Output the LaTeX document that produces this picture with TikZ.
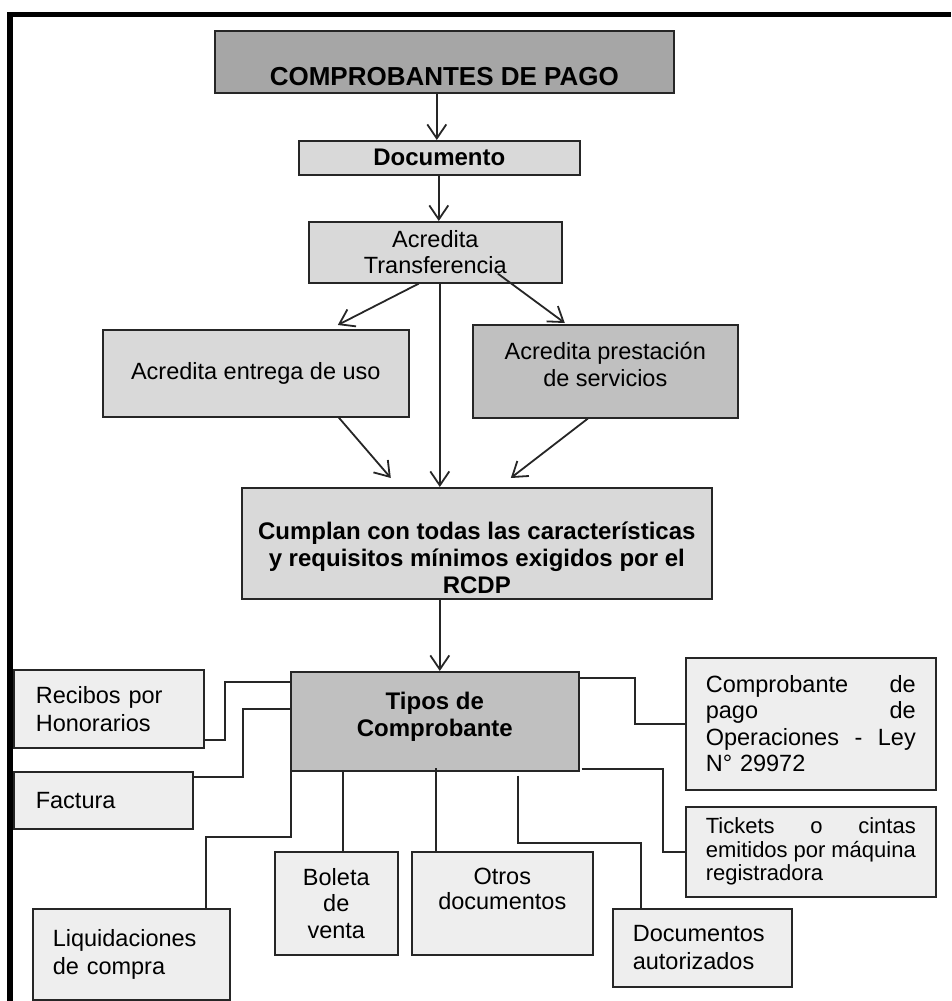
\documentclass[tikz,border=0pt]{standalone}
\usepackage{fontspec}
\setmainfont{Liberation Sans}
\usetikzlibrary{arrows.meta}
\definecolor{dk}{HTML}{A6A6A6}
\definecolor{md}{HTML}{C0C0C0}
\definecolor{lt}{HTML}{D9D9D9}
\definecolor{vl}{HTML}{EEEEEE}
\definecolor{ln}{HTML}{262626}
\newcommand{\fsreg}{\fontsize{23.5}{26.5}\selectfont}
\newcommand{\fsbig}{\fontsize{26}{30}\selectfont\bfseries}
\newcommand{\fsbold}{\fontsize{24}{27}\selectfont\bfseries}
\newcommand{\fssmall}{\fontsize{22}{23.5}\selectfont}
\newcommand{\fsloose}{\fontsize{23.5}{28}\selectfont}
\newcommand{\jline}[1]{\leavevmode\makebox[210pt][l]{#1}}
\tikzset{
  sz/.style n args={4}{minimum width={(#3-#1)*1pt}, minimum height={(#4-#2)*1pt}},
  box/.style={draw=ln, line width=1.6pt, inner sep=0pt, anchor=north west, font=\fsreg, align=center},
  txt/.style={inner sep=0pt, align=center},
  conn/.style={draw=ln, line width=1.8pt},
  arr/.style={conn, -{Straight Barb[length=14pt,width=19pt,line width=1.8pt]}},
}
\begin{document}
\begin{tikzpicture}[x=1pt,y=-1pt]
\useasboundingbox (0,0) rectangle (951,1001);
\draw[line width=5.5pt, line join=miter] (10,1001) -- (10,14.5) -- (951,14.5);

% boxes
\node[box, fill=dk, sz={214}{30}{673}{92}] (cp) at (214,30) {};
\node[txt, font=\fsbig] at ([yshift=-15pt]cp.center) {COMPROBANTES DE PAGO};
\node[box, fill=lt, font=\fsbold, sz={298}{140}{579}{174}] (doc) at (298,140) {Documento};
\node[box, fill=lt, sz={308}{221}{561}{282}] (tr) at (308,221) {Acredita\\Transferencia};
\node[box, fill=lt, sz={102}{329}{408}{416}] (ent) at (102,329) {Acredita entrega de uso};
\node[box, fill=md, sz={472}{324}{737}{417}] (pre) at (472,324) {};
\node[txt, font=\fsreg] at ([yshift=7pt]pre.center) {Acredita prestación\\de servicios};
\node[box, fill=lt, sz={241}{487}{711}{598}] (cum) at (241,487) {};
\node[txt, font=\fsbold] at ([yshift=-15pt]cum.center) {Cumplan con todas las características\\y requisitos mínimos exigidos por el\\RCDP};
\node[box, fill=md, sz={290}{671}{578}{770}] (tip) at (290,671) {};
\node[txt, font=\fsbold] at ([yshift=5pt]tip.center) {Tipos de\\Comprobante};

\node[box, fill=vl, align=left, text width=146pt, font=\fsloose, sz={13}{669}{203}{747}] (rec) at (13,669) {Recibos por\\Honorarios};
\node[box, fill=vl, align=left, text width=135pt, sz={13}{771}{192}{828}] (fac) at (13,771) {Factura};
\node[box, fill=vl, align=left, text width=157pt, font=\fsloose, sz={32}{908}{229}{999}] (liq) at (32,908) {Liquidaciones\\de compra};
\node[box, fill=vl, sz={274}{851}{397}{954}] (bol) at (274,851) {Boleta\\de\\venta};
\node[box, fill=vl, sz={411}{851}{592}{954}] (otr) at (411,851) {};
\node[txt, font={\fontsize{23.5}{25}\selectfont}] at ([yshift=14pt]otr.center) {Otros\\documentos};
\node[box, fill=vl, align=left, text width=139pt, font=\fsloose, sz={612}{908}{791}{986}] (doa) at (612,908) {Documentos\\autorizados};
\node[box, fill=vl, align=left, text width=210pt, sz={685}{657}{935}{789}] (com) at (685,657)
  {\jline{Comprobante\hfill de}\\\jline{pago\hfill de}\\\jline{Operaciones\hfill -\hfill Ley}\\N° 29972};
\node[box, fill=vl, align=left, text width=210pt, font=\fssmall, sz={685}{806}{935}{896}] (tic) at (685,806)
  {\jline{Tickets\hfill o\hfill cintas}\\\jline{emitidos\hfill por\hfill máquina}\\registradora};

% arrows
\draw[arr] ([xshift=-7.5pt]cp.south) -- ([xshift=-2.5pt]doc.north);
\draw[arr] ([xshift=-0.5pt]doc.south) -- ([xshift=3.5pt]tr.north);
\draw[arr] ([xshift=-16.5pt]tr.south) -- ([xshift=82pt,yshift=4pt]ent.north);
\draw[arr] ([xshift=62.5pt,yshift=10pt]tr.south) -- ([xshift=-40.5pt,yshift=1pt]pre.north);
\draw[arr] ([xshift=4.5pt]tr.south) -- ([xshift=-37pt]cum.north);
\draw[arr] ([xshift=83pt]ent.south) -- ([xshift=-86pt,yshift=9pt]cum.north);
\draw[arr] ([xshift=-17.5pt]pre.south) -- ([xshift=34pt,yshift=9pt]cum.north);
\draw[arr] ([xshift=-37pt]cum.south) -- ([xshift=5pt]tip.north);

% tree connectors
\draw[conn] ([yshift=-31pt]rec.east) -- ++(20,0) |- ([yshift=39.5pt]tip.west);
\draw[conn] ([yshift=23.5pt]fac.east) -- ++(49,0) |- ([yshift=12.5pt]tip.west);
\draw[conn] ([xshift=74.5pt]liq.north) -- ++(0,-71) -| ([xshift=1pt]tip.south west);
\draw[conn] ([xshift=6.5pt]bol.north) -- ([xshift=6.5pt]bol.north |- tip.south);
\draw[conn] ([xshift=-66.5pt]otr.north) -- ([xshift=-66.5pt,yshift=4pt]otr.north |- tip.south);
\draw[conn] ([xshift=83pt,yshift=-4pt]tip.south) -- ++(0,67) -| ([xshift=-61.5pt]doa.north);
\draw[conn] ([yshift=43.5pt]tip.east) -- ++(55,0) |- (com.west);
\draw[conn] ([xshift=2pt,yshift=-47.5pt]tip.east) -- ++(81,0) |- (tic.west);
\end{tikzpicture}
\end{document}
